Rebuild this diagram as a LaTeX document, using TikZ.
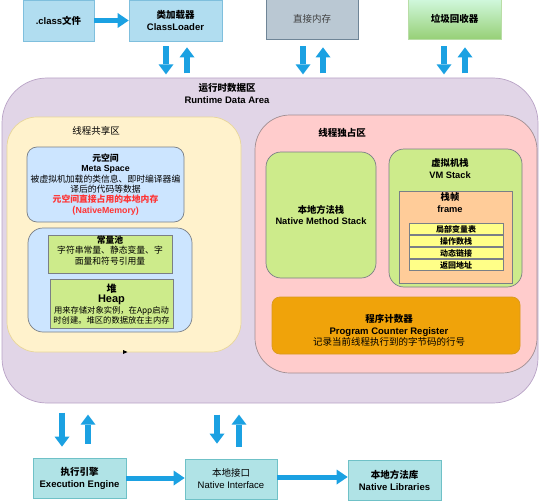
\documentclass[tikz,border=0pt]{standalone}
\usepackage{fontspec}
\setmainfont{Noto Sans CJK SC}
\newfontfamily\lat{Liberation Sans}
\usetikzlibrary{arrows.meta}
\definecolor{ablue}{HTML}{1BA1E2}
\definecolor{topfill}{HTML}{B1DDF0}
\definecolor{topdraw}{HTML}{7FBFDD}
\definecolor{dmfill}{HTML}{BAC8D3}
\definecolor{dmdraw}{HTML}{6F8597}
\definecolor{gcdraw}{HTML}{B9DDA6}
\definecolor{rdafill}{HTML}{E1D5E7}
\definecolor{rdadraw}{HTML}{B9A3C6}
\definecolor{shfill}{HTML}{FFF2CC}
\definecolor{shdraw}{HTML}{E8D69A}
\definecolor{exfill}{HTML}{FFCCCC}
\definecolor{exdraw}{HTML}{A08E92}
\definecolor{bluefill}{HTML}{CCE5FF}
\definecolor{grayline}{HTML}{7A7F86}
\definecolor{grnfill}{HTML}{CDEB8B}
\definecolor{frfill}{HTML}{FFCC99}
\definecolor{rowfill}{HTML}{FFFF88}
\definecolor{pcfill}{HTML}{F0A30A}
\definecolor{pcdraw}{HTML}{D99A1E}
\definecolor{tealfill}{HTML}{B0E3E6}
\definecolor{tealdraw}{HTML}{6FC1C7}
\definecolor{redtxt}{HTML}{FF3333}
\tikzset{
  box/.style={draw, line width=0.7, inner sep=0pt},
  barrow/.style={draw=ablue, line width=5.5, -{Triangle[length=10pt,width=15pt,line width=0pt]}},
  hbarrow/.style={draw=ablue, line width=5, -{Triangle[length=11pt,width=15pt,line width=0pt]}},
  txt/.style={align=center, inner sep=0pt, font=\fontsize{8.8}{10.4}\selectfont},
  topbox/.style={box, draw=topdraw, fill=topfill, align=center, font=\fontsize{9.5}{12}\selectfont\bfseries},
  teal/.style={box, draw=tealdraw, fill=tealfill, align=center, font=\fontsize{9.5}{12}\selectfont},
  row/.style={box, draw=grayline, fill=rowfill, minimum width=94, minimum height=11.3, font=\fontsize{8}{9}\selectfont\bfseries}
}
\begin{document}
\begin{tikzpicture}[x=1pt,y=-1pt]
\useasboundingbox (0,0) rectangle (540,500);
% top row
\node[topbox, minimum width=71, minimum height=41] (cls) at (58.5,20.5) {{\lat .class}文件};
\node[topbox, minimum width=93, minimum height=41] (cl) at (175.5,20.5) {类加载器\\{\lat ClassLoader}};
\node[box, draw=dmdraw, fill=dmfill, minimum width=92, minimum height=40, text=black!75, font=\fontsize{9.5}{12}\selectfont] (dm) at (312,19) {直接内存};
\node[box, draw=gcdraw, top color=green!15!white!80!topfill, bottom color={rgb,255:red,151;green,208;blue,119}, minimum width=93, minimum height=40, font=\fontsize{9.5}{12}\selectfont\bfseries] (gc) at (454.5,19) {垃圾回收器};
\draw[hbarrow] (cls.east) -- (cl.west);
% runtime data area
\node[box, draw=rdadraw, fill=rdafill, rounded corners=45, minimum width=536, minimum height=325] (rda) at (270,240.5) {};
\node[txt, font=\fontsize{9.5}{12}\selectfont\bfseries] (rdat) at (227,93) {运行时数据区\\{\lat Runtime Data Area}};
% arrows top
\draw[barrow] ([xshift=-9.5]cl.south) ++(0,5) -- ++(0,28);
\draw[barrow] ([xshift=11.5]cl.south) ++(0,32) -- ++(0,-26);
\draw[barrow] ([xshift=-9]dm.south) ++(0,7) -- ++(0,28);
\draw[barrow] ([xshift=11]dm.south) ++(0,34) -- ++(0,-26);
\draw[barrow] ([xshift=-10.5]gc.south) ++(0,7) -- ++(0,28);
\draw[barrow] ([xshift=10.5]gc.south) ++(0,34) -- ++(0,-26);
% shared area
\node[box, draw=shdraw, fill=shfill, rounded corners=30, minimum width=234, minimum height=235] (sh) at (124,234.5) {};
\node[txt, font=\fontsize{9.5}{12}\selectfont] (sht) at (96,131) {线程共享区};
\node[box, draw=grayline, fill=bluefill, rounded corners=10, minimum width=157, minimum height=75, txt] (meta) at (105.5,184.5)
 {\textbf{元空间}\\\textbf{\lat Meta Space}\\被虚拟机加载的类信息、即时编译器编\\译后的代码等数据\\\textcolor{redtxt}{\textbf{元空间直接占用的本地内存}}\\\textcolor{redtxt}{\textbf{(\lat NativeMemory)}}};
\node[box, draw=grayline, fill=bluefill, rounded corners=15, minimum width=164, minimum height=104] (heapc) at (110,280) {};
\node[box, draw=grayline, fill=grnfill, minimum width=124, minimum height=38] (pool) at (110,254) {};
\node[txt] (poolt) at (110,250.5) {\textbf{常量池}\\字符串常量、静态变量、字\\面量和符号引用量};
\node[box, draw=grayline, fill=grnfill, minimum width=123, minimum height=49] (heap) at (111.5,303.5) {};
\node[txt] (heapt) at (111.5,304) {{\fontsize{10}{12}\selectfont\textbf{堆}}\\{\fontsize{11}{12.5}\selectfont\textbf{\lat Heap}}\\{\fontsize{8.3}{10.4}\selectfont 用来存储对象实例，在App启动}\\{\fontsize{8.3}{10.4}\selectfont 时创建。堆区的数据放在主内存}};
\fill (123,350) -- (127.5,352) -- (123,354) -- cycle;
% exclusive area
\node[box, draw=exdraw, fill=exfill, rounded corners=35, minimum width=282, minimum height=258] (ex) at (396,244) {};
\node[txt, font=\fontsize{9.5}{12}\selectfont\bfseries] (ext) at (342,133) {线程独占区};
\node[box, draw=grayline, fill=grnfill, rounded corners=15, minimum width=110, minimum height=126, txt, font=\fontsize{9.3}{11.5}\selectfont\bfseries] (nms) at (321,215) {本地方法栈\\{\lat Native Method Stack}};
\node[box, draw=grayline, fill=grnfill, rounded corners=15, minimum width=133, minimum height=138] (vms) at (455.5,218) {};
\node[txt, font=\fontsize{9.3}{12}\selectfont\bfseries] (vmst) at (450,169) {虚拟机栈\\{\lat VM Stack}};
\node[box, draw=grayline, fill=frfill, minimum width=113, minimum height=92] (fr) at (455.5,237) {};
\node[txt, font=\fontsize{9.3}{12}\selectfont\bfseries] (frt) at (450,203) {栈帧\\{\lat frame}};
\node[row, anchor=north] (r1) at (456,223) {局部变量表};
\node[row, anchor=north] (r2) at (r1.south) {操作数栈};
\node[row, anchor=north] (r3) at (r2.south) {动态链接};
\node[row, anchor=north] (r4) at (r3.south) {返回地址};
\node[box, draw=pcdraw, fill=pcfill, rounded corners=8, minimum width=248, minimum height=57] (pc) at (396,325.5) {};
\node[txt, font=\fontsize{9.5}{11.5}\selectfont] (pct) at (389,330.5) {\textbf{程序计数器}\\\textbf{\lat Program Counter Register}\\记录当前线程执行到的字节码的行号};
% bottom row
\node[teal, minimum width=93, minimum height=40] (ee) at (79.5,478) {\textbf{执行引擎}\\\textbf{\lat Execution Engine}};
\node[teal, minimum width=92, minimum height=40] (ni) at (231,479) {本地接口\\{\lat Native Interface}};
\node[teal, minimum width=93, minimum height=40] (nl) at (394.5,480) {\textbf{本地方法库}\\\textbf{\lat Native Libraries}};
\draw[hbarrow] (ee.east) -- (ee.east -| ni.west);
\draw[hbarrow] ([yshift=2]ni.east) -- ([yshift=2]ni.east -| nl.west);
\draw[barrow] ([xshift=-17.5]ee.north) ++(0,-45) -- ++(0,34);
\draw[barrow] ([xshift=8.5]ee.north) ++(0,-14) -- ++(0,-29);
\draw[barrow] ([xshift=-14]ni.north) ++(0,-44) -- ++(0,29);
\draw[barrow] ([xshift=8]ni.north) ++(0,-12) -- ++(0,-32);
\end{tikzpicture}
\end{document}
